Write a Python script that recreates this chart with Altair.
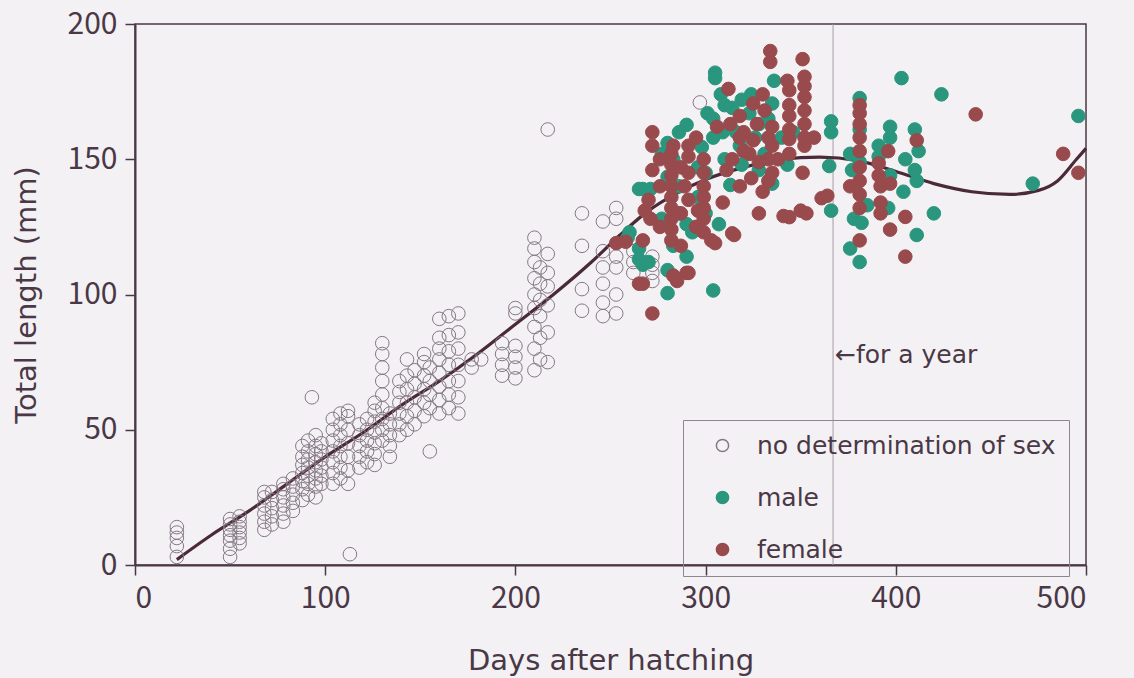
import altair as alt
import pandas as pd

# ---- data: (day after hatching, [total lengths mm]) ----
UNSEXED = [
    (22, [3, 7, 10, 12, 14]),
    (50, [3, 6, 9, 11, 13, 15, 17]),
    (55, [8, 10, 12, 14, 16, 18]),
    (68, [13, 16, 19, 22, 25, 27]),
    (72, [15, 18, 21, 24, 27]),
    (78, [16, 19, 22, 25, 28, 30]),
    (83, [20, 23, 26, 29, 32]),
    (88, [24, 28, 31, 34, 37, 40, 44]),
    (91, [26, 30, 33, 36, 39, 42, 46]),
    (93, [62]),
    (95, [25, 29, 32, 35, 38, 41, 44, 48]),
    (98, [30, 33, 36, 39, 42, 45]),
    (104, [30, 34, 38, 42, 46, 50, 54]),
    (108, [32, 36, 40, 44, 48, 52, 56]),
    (112, [30, 35, 40, 45, 50, 55, 57]),
    (113, [4]),
    (118, [36, 40, 44, 48, 52]),
    (122, [38, 42, 46, 50, 54]),
    (126, [37, 41, 45, 49, 53, 57, 60]),
    (130, [46, 50, 54, 58, 63, 68, 73, 78, 82]),
    (134, [40, 44, 48, 52, 56]),
    (139, [48, 52, 56, 60, 64, 68]),
    (143, [50, 55, 60, 65, 70, 76]),
    (147, [52, 57, 62, 67, 72]),
    (152, [55, 60, 65, 70, 75, 78]),
    (155, [42, 58, 63, 68, 73]),
    (160, [56, 61, 66, 71, 76, 80, 84, 91]),
    (165, [58, 63, 68, 74, 79, 85, 92]),
    (170, [56, 62, 68, 74, 80, 86, 93]),
    (177, [73, 76]),
    (182, [76]),
    (193, [70, 74, 78, 82]),
    (200, [69, 73, 77, 81, 93, 95]),
    (210, [72, 80, 88, 95, 100, 106, 112, 117, 121]),
    (213, [76, 84, 92, 98, 104, 110]),
    (217, [75, 86, 96, 103, 108, 115, 161]),
    (235, [94, 102, 118, 130]),
    (246, [92, 97, 104, 110, 116, 127]),
    (253, [93, 100, 110, 114, 128, 132]),
    (262, [108, 112, 116]),
    (272, [105, 108, 111, 114]),
    (279, [151]),
    (297, [171]),
]

MALE = [
    (259, [121]), (260, [123]), (265, [139, 117, 113]), (267, [111, 139]),
    (270, [112]), (271, [139]), (277, [152, 128]), (280, [156, 143.5, 109, 100.5]),
    (283, [150, 118]), (286, [160, 140, 130]), (290, [162.7, 126, 114]),
    (293, [123]), (296, [147, 136]), (298, [154.5]), (300, [145, 130]),
    (301, [167]), (304, [158, 101.5, 165]), (305, [182, 180]), (307, [126]),
    (308, [174]), (309, [160]), (310, [150, 170]), (313, [140.5]),
    (314, [169]), (316, [160]), (318, [155]), (319, [172, 148]),
    (323, [167]), (324, [174]), (326, [158]), (328, [163, 146]),
    (331, [152]), (333, [165]), (335, [170.6, 141]), (336, [179]),
    (340, [158]), (343, [148]), (346, [160]), (365, [147.5]),
    (366, [164, 160, 131]), (376, [152, 117]), (377, [146]), (378, [128]),
    (381, [172.6, 161, 149, 112]), (382, [126.5]), (385, [133]),
    (391, [155, 151]), (396, [132]), (397, [162, 158, 144]),
    (403, [180]), (404, [138]), (405, [150]), (410, [161, 146]),
    (411, [142, 122]), (412, [153]), (420, [130]), (424, [174]),
    (472, [141]), (496, [166]),
]

FEMALE = [
    (253, [119]), (258, [119.5]), (265, [104]), (267, [120, 104]),
    (268, [131]), (270, [135]), (271, [128]), (272, [160, 155, 146, 93]),
    (276, [150, 140, 125]),
    (282, [152, 148, 144, 140, 136, 132, 128, 124, 120]),
    (283, [155, 107]), (285, [105]), (287, [147, 130, 118]), (289, [140]),
    (290, [108]), (291, [155, 151, 145, 135, 108]), (295, [158, 125]),
    (296, [131]), (299, [150, 145, 140, 136, 132, 128, 123]),
    (303, [120]), (305, [119]), (306, [162]), (309, [134]), (311, [146]),
    (312, [176]), (313, [163]), (314, [150, 122.6]), (315, [122]),
    (318, [166, 158, 140]), (320, [160, 153]),
    (323, [152]), (324, [143]), (325, [170.6, 157]), (327, [163]),
    (328, [149, 130]), (330, [174, 138]), (331, [168]),
    (333, [158, 150, 142]), (334, [190, 186]),
    (335, [162, 155, 145]), (338, [150]), (341, [129]), (343, [179]),
    (344, [175.5, 170, 166, 161, 157.5, 152, 128.6]), (350, [131]),
    (351, [187, 145]), (352, [180.5, 177, 173, 168, 163, 158, 155]),
    (353, [130]), (357, [158]), (361, [135.6]), (364, [136.5]),
    (376, [140]), (381, [170, 167, 163, 158, 153, 147, 142, 137, 132, 120]),
    (391, [148.5, 144]), (392, [140, 134, 130]), (396, [153]),
    (397, [141, 124]), (405, [128.7, 114]), (411, [157]),
    (442, [166.6]), (488, [152]), (496, [145]),
]

CURVE_DAY = [22, 40, 60, 80, 100, 120, 140, 160, 180, 200, 220, 240, 255, 270,
             285, 300, 320, 340, 360, 380, 400, 420, 440, 460, 475, 485, 495, 500]
CURVE_LEN = [2, 11, 20, 30, 40, 49, 59, 68, 78, 89, 100, 112, 122, 131,
             137.5, 142.5, 147, 150, 150.8, 149.5, 145.5, 141, 138, 137, 138.5, 142, 150, 154]

YEAR_DAY = [367]
CATEGORIES = ["no determination of sex", "male", "female"]
X_TICKS = [0, 100, 200, 300, 400, 500]
Y_TICKS = [0, 50, 100, 150, 200]

rows = []
for label, groups in zip(CATEGORIES, [UNSEXED, MALE, FEMALE]):
    for d, lens in groups:
        for v in lens:
            rows.append({"day": d, "length": v, "sex": label})
pts = pd.DataFrame(rows)
curve = pd.DataFrame({"day": CURVE_DAY, "length": CURVE_LEN})
year = pd.DataFrame({"day": YEAR_DAY, "y0": [0], "y1": [200],
                     "ylab": [77.5], "txt": ["\u2190for a year"]})

INK = "#4a3846"
BG = "#f3f1f4"

xs = alt.Scale(domain=[0, 500], nice=False, zero=False)
ys = alt.Scale(domain=[0, 200], nice=False)

xax = alt.Axis(values=X_TICKS, title="Days after hatching", grid=False,
               tickSize=10, labelPadding=8, titlePadding=33)
yax = alt.Axis(values=Y_TICKS, title="Total length (mm)", grid=False,
               tickSize=10, labelPadding=8, titlePadding=26)

rule = alt.Chart(year).mark_rule(color="#a79ca6", strokeWidth=1).encode(
    x=alt.X("day:Q", scale=xs, axis=xax),
    y=alt.Y("y0:Q", scale=ys, axis=yax),
    y2="y1:Q",
)

label = alt.Chart(year).mark_text(align="left", baseline="middle", dx=2,
                                  font="DejaVu Sans", fontSize=25, color=INK).encode(
    x=alt.X("day:Q", scale=xs),
    y=alt.Y("ylab:Q", scale=ys),
    text="txt:N",
)

line = alt.Chart(curve).mark_line(color="#4b2a38", strokeWidth=3.2,
                                  interpolate="monotone").encode(
    x=alt.X("day:Q", scale=xs),
    y=alt.Y("length:Q", scale=ys),
)

points = alt.Chart(pts).mark_point(shape="circle", size=185, strokeWidth=1,
                                   opacity=1, fillOpacity=1, strokeOpacity=1).encode(
    x=alt.X("day:Q", scale=xs),
    y=alt.Y("length:Q", scale=ys),
    fill=alt.Fill("sex:N", title=None,
                  scale=alt.Scale(domain=CATEGORIES,
                                  range=["transparent", "#2a967e", "#984a4c"])),
    stroke=alt.Stroke("sex:N", title=None,
                      scale=alt.Scale(domain=CATEGORIES,
                                      range=["#857785", "#2a967e", "#984a4c"])),
)

chart = alt.layer(rule, line, points, label).properties(
    width=951, height=541,
    autosize=alt.AutoSizeParams(type="none"),
    padding={"left": 135, "top": 24, "right": 48, "bottom": 113},
    background=BG,
).configure_view(
    stroke=INK, strokeWidth=1.5, fill=BG,
).configure_axis(
    domainColor=INK, domainWidth=2, tickColor=INK, tickWidth=1.5,
    labelColor=INK, labelFont="Noto Sans CJK JP", labelFontSize=30,
    titleColor=INK, titleFont="DejaVu Sans", titleFontSize=29,
    titleFontWeight="normal",
).configure_legend(
    orient="none", legendX=548, legendY=396, padding=13,
    labelFont="DejaVu Sans", labelFontSize=25, labelColor=INK,
    symbolSize=150, rowPadding=26, labelOffset=22, symbolOffset=14,
    strokeColor="#8f8590", labelLimit=0,
)

chart.save("out.html", embed_options={"renderer": "svg", "actions": False})
